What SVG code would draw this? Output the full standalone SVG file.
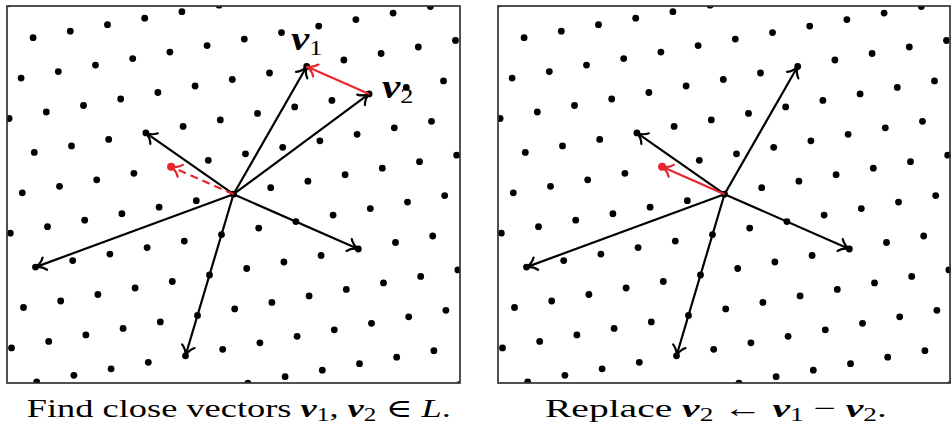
<svg xmlns="http://www.w3.org/2000/svg" xmlns:xlink="http://www.w3.org/1999/xlink" width="951" height="433" viewBox="0 0 951 433">
<style>
.frame{fill:none;stroke:#333;stroke-width:1.7}
.pt{fill:#000}
.vec{stroke:#000;stroke-width:2.2;fill:none;marker-end:url(#ahk)}
.rvec{stroke:#e8262c;stroke-width:2.2;fill:none;marker-end:url(#ahr)}
.dash{stroke-dasharray:8 5}
.rdot{fill:#e8262c}
.t{font-family:"Liberation Serif","DejaVu Serif",serif;fill:#000}
.bv{font-weight:bold;font-style:italic}
</style>
<defs>
<clipPath id="box"><rect x="7" y="6" width="453" height="377"/></clipPath>
<marker id="ahk" markerUnits="userSpaceOnUse" orient="auto" overflow="visible" markerWidth="1" markerHeight="1" refX="0" refY="0">
<path d="M-10,-6.5 C-7.5,-3 -3.5,-0.8 0,0 C-3.5,0.8 -7.5,3 -10,6.5" fill="none" stroke="#000" stroke-width="2.2" stroke-linecap="round"/>
</marker>
<marker id="ahr" markerUnits="userSpaceOnUse" orient="auto" overflow="visible" markerWidth="1" markerHeight="1" refX="0" refY="0">
<path d="M-10,-6.5 C-7.5,-3 -3.5,-0.8 0,0 C-3.5,0.8 -7.5,3 -10,6.5" fill="none" stroke="#e8262c" stroke-width="2.2" stroke-linecap="round"/>
</marker>
<g id="lattice" clip-path="url(#box)">
<circle class="pt" cx="7.9" cy="3.8" r="3.4"/>
<circle class="pt" cx="33.1" cy="37.7" r="3.4"/><circle class="pt" cx="70.3" cy="31.2" r="3.4"/><circle class="pt" cx="107.5" cy="24.7" r="3.4"/><circle class="pt" cx="144.7" cy="18.2" r="3.4"/><circle class="pt" cx="181.9" cy="11.7" r="3.4"/><circle class="pt" cx="219.1" cy="5.2" r="3.4"/>
<circle class="pt" cx="21.1" cy="78.1" r="3.4"/><circle class="pt" cx="58.3" cy="71.6" r="3.4"/><circle class="pt" cx="95.5" cy="65.1" r="3.4"/><circle class="pt" cx="132.7" cy="58.6" r="3.4"/><circle class="pt" cx="169.9" cy="52.1" r="3.4"/><circle class="pt" cx="207.1" cy="45.6" r="3.4"/><circle class="pt" cx="244.3" cy="39.1" r="3.4"/><circle class="pt" cx="281.5" cy="32.6" r="3.4"/><circle class="pt" cx="318.7" cy="26.1" r="3.4"/><circle class="pt" cx="355.9" cy="19.6" r="3.4"/><circle class="pt" cx="393.1" cy="13.1" r="3.4"/><circle class="pt" cx="430.3" cy="6.6" r="3.4"/>
<circle class="pt" cx="9.1" cy="118.5" r="3.4"/><circle class="pt" cx="46.3" cy="112" r="3.4"/><circle class="pt" cx="83.5" cy="105.5" r="3.4"/><circle class="pt" cx="120.7" cy="99" r="3.4"/><circle class="pt" cx="157.9" cy="92.5" r="3.4"/><circle class="pt" cx="195.1" cy="86" r="3.4"/><circle class="pt" cx="232.3" cy="79.5" r="3.4"/><circle class="pt" cx="269.5" cy="73" r="3.4"/><circle class="pt" cx="306.7" cy="66.5" r="3.4"/><circle class="pt" cx="343.9" cy="60" r="3.4"/><circle class="pt" cx="381.1" cy="53.5" r="3.4"/><circle class="pt" cx="418.3" cy="47" r="3.4"/><circle class="pt" cx="455.5" cy="40.5" r="3.4"/>
<circle class="pt" cx="34.3" cy="152.4" r="3.4"/><circle class="pt" cx="71.5" cy="145.9" r="3.4"/><circle class="pt" cx="108.7" cy="139.4" r="3.4"/><circle class="pt" cx="145.9" cy="132.9" r="3.4"/><circle class="pt" cx="183.1" cy="126.4" r="3.4"/><circle class="pt" cx="220.3" cy="119.9" r="3.4"/><circle class="pt" cx="257.5" cy="113.4" r="3.4"/><circle class="pt" cx="294.7" cy="106.9" r="3.4"/><circle class="pt" cx="331.9" cy="100.4" r="3.4"/><circle class="pt" cx="369.1" cy="93.9" r="3.4"/><circle class="pt" cx="406.3" cy="87.4" r="3.4"/><circle class="pt" cx="443.5" cy="80.9" r="3.4"/>
<circle class="pt" cx="22.3" cy="192.8" r="3.4"/><circle class="pt" cx="59.5" cy="186.3" r="3.4"/><circle class="pt" cx="96.7" cy="179.8" r="3.4"/><circle class="pt" cx="133.9" cy="173.3" r="3.4"/><circle class="pt" cx="171.1" cy="166.8" r="3.4"/><circle class="pt" cx="208.3" cy="160.3" r="3.4"/><circle class="pt" cx="245.5" cy="153.8" r="3.4"/><circle class="pt" cx="282.7" cy="147.3" r="3.4"/><circle class="pt" cx="319.9" cy="140.8" r="3.4"/><circle class="pt" cx="357.1" cy="134.3" r="3.4"/><circle class="pt" cx="394.3" cy="127.8" r="3.4"/><circle class="pt" cx="431.5" cy="121.3" r="3.4"/>
<circle class="pt" cx="10.3" cy="233.2" r="3.4"/><circle class="pt" cx="47.5" cy="226.7" r="3.4"/><circle class="pt" cx="84.7" cy="220.2" r="3.4"/><circle class="pt" cx="121.9" cy="213.7" r="3.4"/><circle class="pt" cx="159.1" cy="207.2" r="3.4"/><circle class="pt" cx="196.3" cy="200.7" r="3.4"/><circle class="pt" cx="233.5" cy="194.2" r="3.4"/><circle class="pt" cx="270.7" cy="187.7" r="3.4"/><circle class="pt" cx="307.9" cy="181.2" r="3.4"/><circle class="pt" cx="345.1" cy="174.7" r="3.4"/><circle class="pt" cx="382.3" cy="168.2" r="3.4"/><circle class="pt" cx="419.5" cy="161.7" r="3.4"/><circle class="pt" cx="456.7" cy="155.2" r="3.4"/>
<circle class="pt" cx="35.5" cy="267.1" r="3.4"/><circle class="pt" cx="72.7" cy="260.6" r="3.4"/><circle class="pt" cx="109.9" cy="254.1" r="3.4"/><circle class="pt" cx="147.1" cy="247.6" r="3.4"/><circle class="pt" cx="184.3" cy="241.1" r="3.4"/><circle class="pt" cx="221.5" cy="234.6" r="3.4"/><circle class="pt" cx="258.7" cy="228.1" r="3.4"/><circle class="pt" cx="295.9" cy="221.6" r="3.4"/><circle class="pt" cx="333.1" cy="215.1" r="3.4"/><circle class="pt" cx="370.3" cy="208.6" r="3.4"/><circle class="pt" cx="407.5" cy="202.1" r="3.4"/><circle class="pt" cx="444.7" cy="195.6" r="3.4"/>
<circle class="pt" cx="23.5" cy="307.5" r="3.4"/><circle class="pt" cx="60.7" cy="301" r="3.4"/><circle class="pt" cx="97.9" cy="294.5" r="3.4"/><circle class="pt" cx="135.1" cy="288" r="3.4"/><circle class="pt" cx="172.3" cy="281.5" r="3.4"/><circle class="pt" cx="209.5" cy="275" r="3.4"/><circle class="pt" cx="246.7" cy="268.5" r="3.4"/><circle class="pt" cx="283.9" cy="262" r="3.4"/><circle class="pt" cx="321.1" cy="255.5" r="3.4"/><circle class="pt" cx="358.3" cy="249" r="3.4"/><circle class="pt" cx="395.5" cy="242.5" r="3.4"/><circle class="pt" cx="432.7" cy="236" r="3.4"/>
<circle class="pt" cx="11.5" cy="347.9" r="3.4"/><circle class="pt" cx="48.7" cy="341.4" r="3.4"/><circle class="pt" cx="85.9" cy="334.9" r="3.4"/><circle class="pt" cx="123.1" cy="328.4" r="3.4"/><circle class="pt" cx="160.3" cy="321.9" r="3.4"/><circle class="pt" cx="197.5" cy="315.4" r="3.4"/><circle class="pt" cx="234.7" cy="308.9" r="3.4"/><circle class="pt" cx="271.9" cy="302.4" r="3.4"/><circle class="pt" cx="309.1" cy="295.9" r="3.4"/><circle class="pt" cx="346.3" cy="289.4" r="3.4"/><circle class="pt" cx="383.5" cy="282.9" r="3.4"/><circle class="pt" cx="420.7" cy="276.4" r="3.4"/><circle class="pt" cx="457.9" cy="269.9" r="3.4"/>
<circle class="pt" cx="36.7" cy="381.8" r="3.4"/><circle class="pt" cx="73.9" cy="375.3" r="3.4"/><circle class="pt" cx="111.1" cy="368.8" r="3.4"/><circle class="pt" cx="148.3" cy="362.3" r="3.4"/><circle class="pt" cx="185.5" cy="355.8" r="3.4"/><circle class="pt" cx="222.7" cy="349.3" r="3.4"/><circle class="pt" cx="259.9" cy="342.8" r="3.4"/><circle class="pt" cx="297.1" cy="336.3" r="3.4"/><circle class="pt" cx="334.3" cy="329.8" r="3.4"/><circle class="pt" cx="371.5" cy="323.3" r="3.4"/><circle class="pt" cx="408.7" cy="316.8" r="3.4"/><circle class="pt" cx="445.9" cy="310.3" r="3.4"/>
<circle class="pt" cx="247.9" cy="383.2" r="3.4"/><circle class="pt" cx="285.1" cy="376.7" r="3.4"/><circle class="pt" cx="322.3" cy="370.2" r="3.4"/><circle class="pt" cx="359.5" cy="363.7" r="3.4"/><circle class="pt" cx="396.7" cy="357.2" r="3.4"/><circle class="pt" cx="433.9" cy="350.7" r="3.4"/>
<circle class="pt" cx="459.1" cy="384.6" r="3.4"/>
</g>
</defs>
<rect width="951" height="433" fill="#fff"/>

<g id="panel-left">
<use id="lattice-left" href="#lattice" xlink:href="#lattice"/>
<rect class="frame" x="7" y="6" width="453" height="377"/>
<g id="connectors-left">
<line class="vec" x1="233.5" y1="194.2" x2="306.7" y2="66.5"/>
<line class="vec" x1="233.5" y1="194.2" x2="369.1" y2="93.9"/>
<line class="vec" x1="233.5" y1="194.2" x2="145.9" y2="132.9"/>
<line class="vec" x1="233.5" y1="194.2" x2="35.5" y2="267.1"/>
<line class="vec" x1="233.5" y1="194.2" x2="185.5" y2="355.8"/>
<line class="vec" x1="233.5" y1="194.2" x2="358.3" y2="249"/>
<line class="rvec dash" x1="233.5" y1="194.2" x2="171.1" y2="166.8"/>
<line class="rvec" x1="369.1" y1="93.9" x2="306.7" y2="66.5"/>
</g>
<g id="node-red-left"><circle class="rdot" cx="171.1" cy="166.8" r="4"/></g>
<g id="label-v1"><text class="t" transform="translate(291 50) scale(1.25 1)" font-size="33"><tspan class="bv">v</tspan><tspan font-size="21" dy="5">1</tspan></text></g>
<g id="label-v2"><text class="t" transform="translate(382 98) scale(1.25 1)" font-size="33"><tspan class="bv">v</tspan><tspan font-size="21" dy="5">2</tspan></text></g>
<g id="caption-left"><text class="t" transform="translate(26.7 417) scale(1.4 1)" font-size="26">Find close vectors <tspan class="bv">v</tspan><tspan font-size="18" dy="3.8">1</tspan><tspan dy="-3.8">, </tspan><tspan class="bv">v</tspan><tspan font-size="18" dy="3.8">2</tspan><tspan dy="-3.8"> ∈ </tspan><tspan font-style="italic">L</tspan>.</text></g>
</g>

<g id="panel-right" transform="translate(491 0)">
<use id="lattice-right" href="#lattice" xlink:href="#lattice"/>
<rect class="frame" x="7" y="6" width="452" height="377"/>
<g id="connectors-right">
<line class="vec" x1="233.5" y1="194.2" x2="306.7" y2="66.5"/>
<line class="vec" x1="233.5" y1="194.2" x2="145.9" y2="132.9"/>
<line class="vec" x1="233.5" y1="194.2" x2="35.5" y2="267.1"/>
<line class="vec" x1="233.5" y1="194.2" x2="185.5" y2="355.8"/>
<line class="vec" x1="233.5" y1="194.2" x2="358.3" y2="249"/>
<line class="rvec" x1="233.5" y1="194.2" x2="171.1" y2="166.8"/>
</g>
<g id="node-red-right"><circle class="rdot" cx="171.1" cy="166.8" r="4"/></g>
</g>
<g id="caption-right"><text class="t" transform="translate(545 417) scale(1.52 1)" font-size="26">Replace <tspan class="bv">v</tspan><tspan font-size="18" dy="3.8">2</tspan><tspan dy="-3.8"> ← </tspan><tspan class="bv">v</tspan><tspan font-size="18" dy="3.8">1</tspan><tspan dy="-3.8"> − </tspan><tspan class="bv">v</tspan><tspan font-size="18" dy="3.8">2</tspan><tspan dy="-3.8">.</tspan></text></g>
</svg>
